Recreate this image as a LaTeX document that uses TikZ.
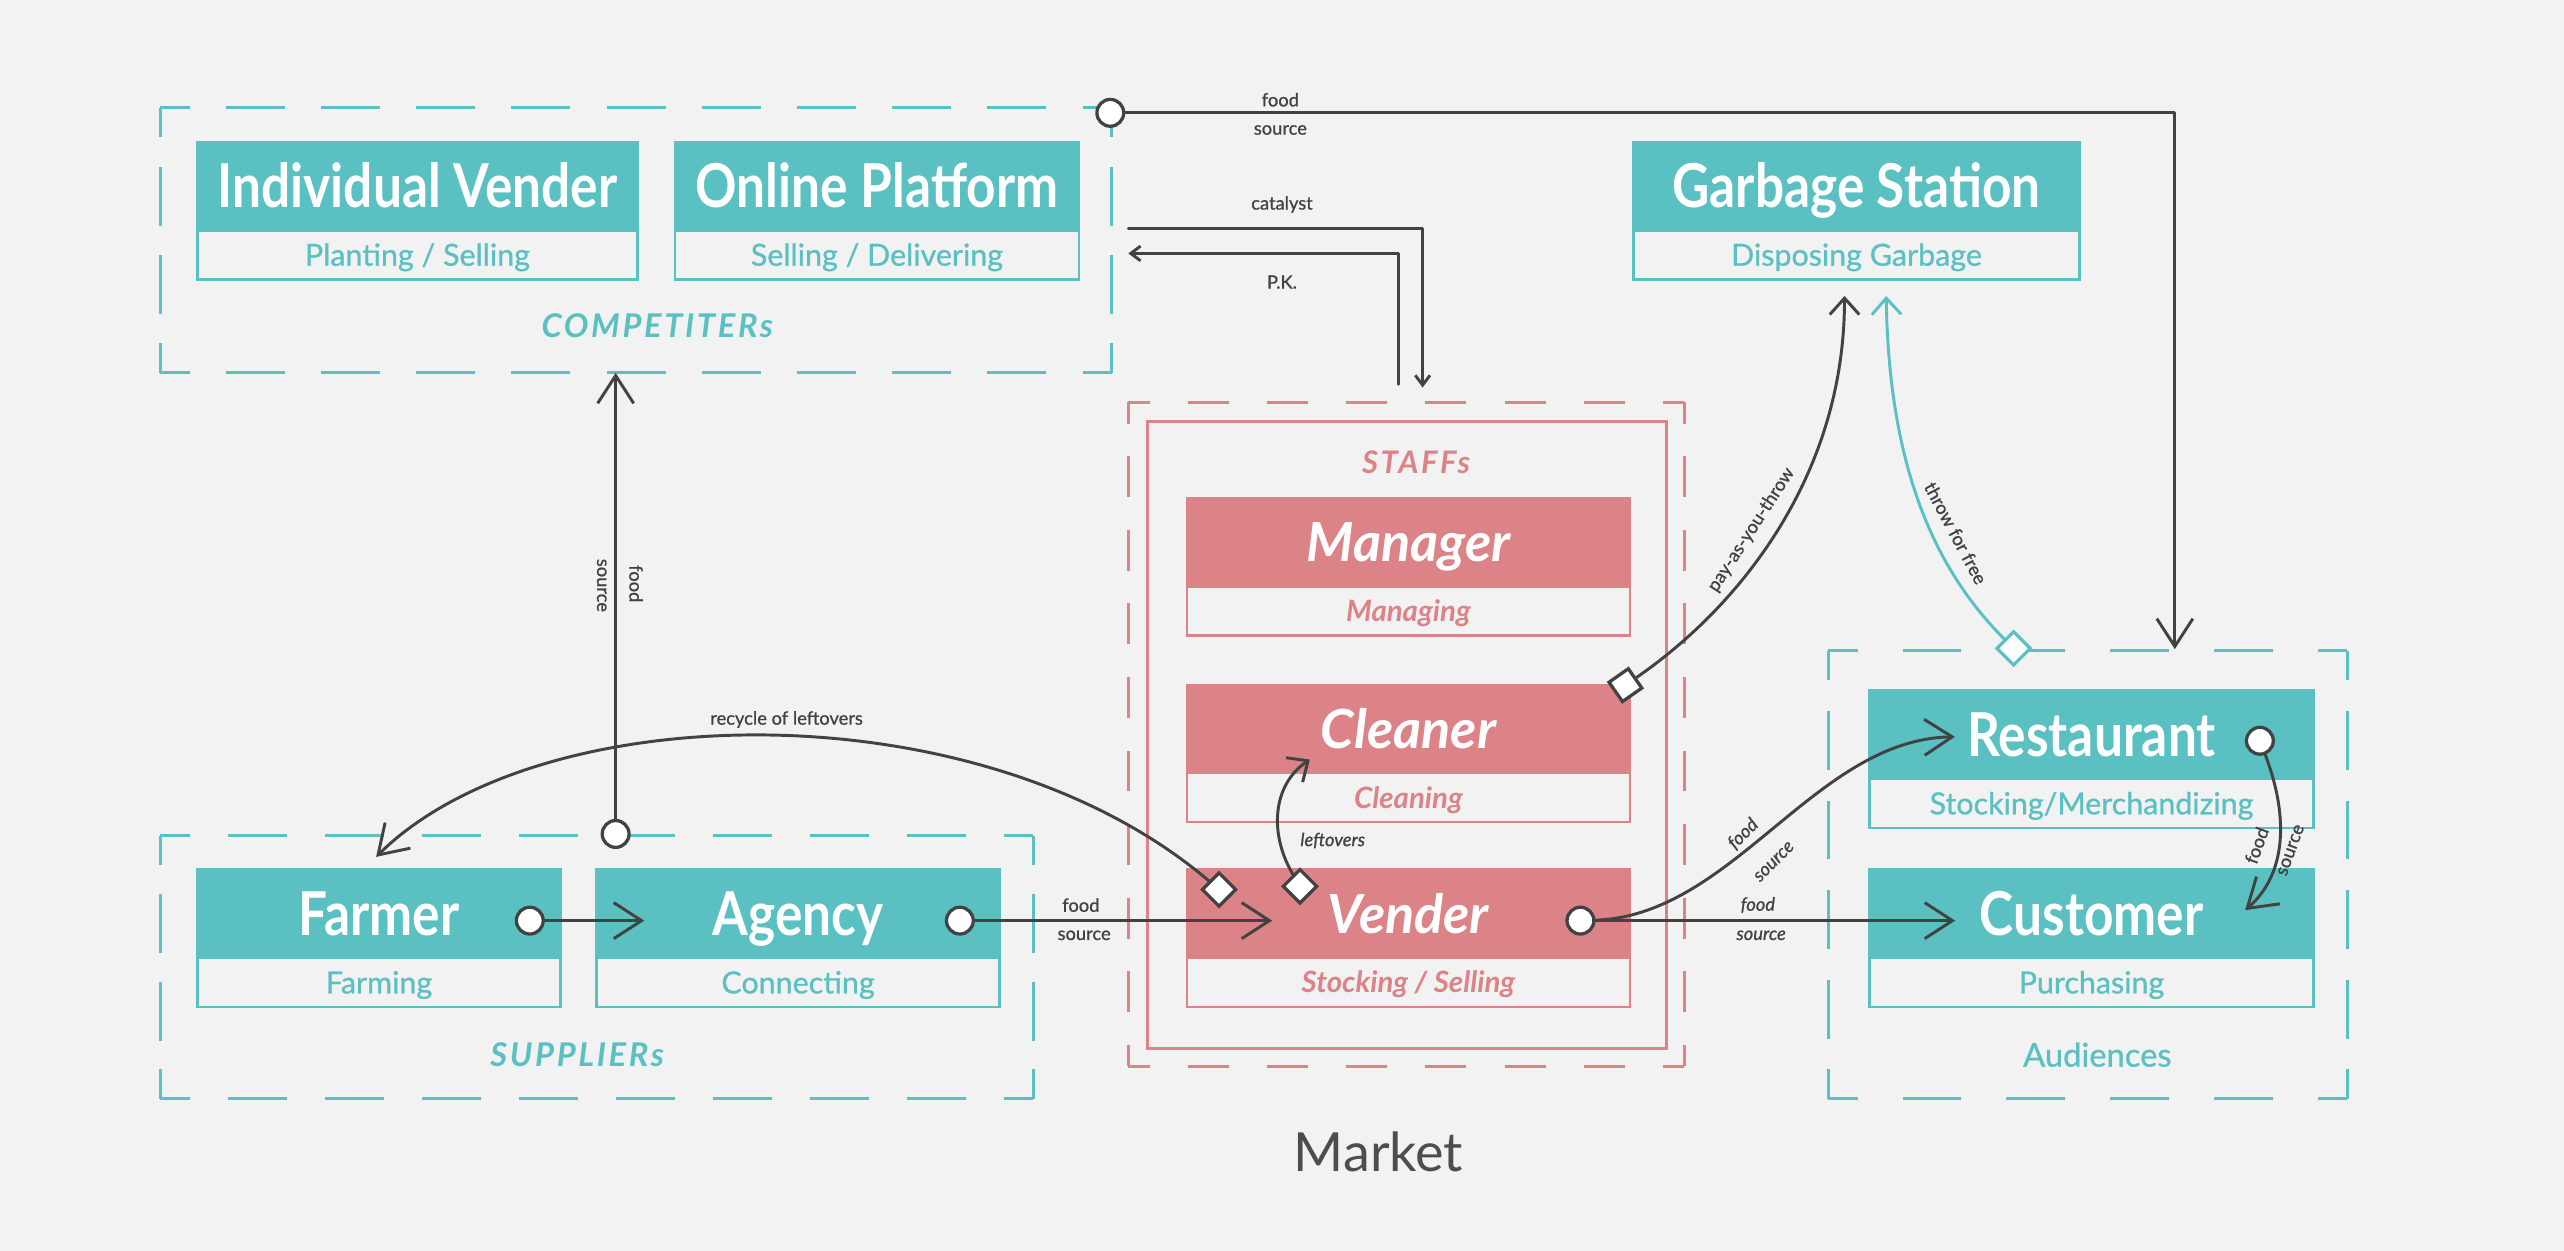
\documentclass[tikz,border=0pt]{standalone}
\usepackage{fontspec}
\setmainfont{Lato}
\newfontfamily\titlefont{Lato}[FakeStretch=0.85]
\newfontfamily\groupfont{Lato}[LetterSpace=8]
\newfontfamily\medfont{Lato}[FakeBold=0.8]
\usetikzlibrary{arrows.meta,shapes.geometric}
\definecolor{bgc}{HTML}{F2F2F2}
\definecolor{tealc}{HTML}{5BC0C2}
\definecolor{redc}{HTML}{DB8386}
\definecolor{darkc}{HTML}{424242}
\definecolor{mktc}{HTML}{4D4D4D}

% one dashed side: colour, start, end, length(pt), dash(pt), corner arm(pt)
\newcommand\dashside[6]{%
  \pgfmathsetmacro\dsN{max(0,round((#4-2*#6-11)/(#5+11)))}%
  \pgfmathsetmacro\dsG{(#4-2*#6-\dsN*#5)/(\dsN+1)}%
  \pgfmathsetmacro\dsP{#5-#6}%
  \draw[line width=0.9pt, draw=#1, dash pattern=on #5pt off \dsG pt, dash phase=\dsP pt] #2 -- #3;}
% colour, x1,y1,x2,y2, width(pt), height(pt), dash, corner
\newcommand\dashrect[9]{%
  \dashside{#1}{(#2,#3)}{(#4,#3)}{#6}{#8}{#9}%
  \dashside{#1}{(#4,#3)}{(#4,#5)}{#7}{#8}{#9}%
  \dashside{#1}{(#4,#5)}{(#2,#5)}{#6}{#8}{#9}%
  \dashside{#1}{(#2,#5)}{(#2,#3)}{#7}{#8}{#9}}

\tikzset{
  tealhead/.style={draw=tealc, fill=tealc, line width=0.8pt, inner sep=0pt, anchor=north west,
    minimum height=27pt, text=white, font=\titlefont\bfseries\fontsize{18.5}{20}\selectfont,
    text height=13.2pt, text depth=0pt},
  tealsub/.style={draw=tealc, line width=0.8pt, inner sep=0pt, anchor=north west,
    minimum height=15pt, text=tealc, font=\medfont\fontsize{9.3}{11}\selectfont,
    text height=6.7pt, text depth=0pt},
  redhead/.style={draw=redc, fill=redc, line width=0.8pt, inner sep=0pt, anchor=north west,
    minimum width=135.5pt, minimum height=27pt, text=white,
    font=\bfseries\itshape\fontsize{16.5}{18}\selectfont, text height=11.8pt, text depth=0pt},
  redsub/.style={draw=redc, line width=0.8pt, inner sep=0pt, anchor=north west,
    minimum width=135.5pt, minimum height=15pt, text=redc,
    font=\bfseries\itshape\fontsize{9}{11}\selectfont, text height=6.4pt, text depth=0pt},
  grp/.style={inner sep=0pt, font=\groupfont\bfseries\itshape\fontsize{10}{12}\selectfont},
  lbl/.style={inner sep=0.3pt, text=darkc, font=\medfont\fontsize{5.6}{7}\selectfont},
  lbli/.style={inner sep=0.3pt, text=darkc, font=\medfont\itshape\fontsize{5.6}{7}\selectfont},
  dot/.style={circle, draw=darkc, fill=white, line width=1pt, minimum size=8.2pt, inner sep=0pt},
  dia/.style={diamond, aspect=1, draw=darkc, fill=white, line width=1pt,
    minimum width=10.6pt, minimum height=10.6pt, inner sep=0pt},
  conn/.style={draw=darkc, line width=0.9pt, line cap=round, line join=round},
  bigtip/.style={-{Straight Barb[length=8.5pt, width=11pt]}},
  midtip/.style={-{Straight Barb[length=5pt, width=9pt]}},
  smalltip/.style={-{Straight Barb[length=3pt, width=4.5pt]}},
}

\begin{document}
\begin{tikzpicture}[x=0.5pt, y=-0.5pt]
\useasboundingbox (0,0) rectangle (1568,765);
\fill[bgc] (0,0) rectangle (1568,765);

% group frames
\dashrect{tealc}{98}{66}{680}{228}{291}{81}{18}{9}
\dashrect{tealc}{98}{511}{632}{672}{267}{80.5}{18}{9}
\dashrect{tealc}{1118}{398}{1435.5}{672}{158.75}{137}{18}{9}
\dashrect{redc}{690}{246}{1030}{652}{170}{203}{12.5}{6.5}
\draw[redc, line width=0.9pt] (702,258) rectangle (1019,641);

% entities
\node[tealhead, minimum width=134.5pt] (ivh) at (120,86) {Individual Vender};
\node[tealsub, minimum width=134.5pt] (ivs) at (120,140) {Planting / Selling};
\node[tealhead, minimum width=123.5pt] (oph) at (412,86) {Online Platform};
\node[tealsub, minimum width=123.5pt] (ops) at (412,140) {Selling / Delivering};
\node[tealhead, minimum width=136.5pt] (gsh) at (998,86) {Garbage Station};
\node[tealsub, minimum width=136.5pt] (gss) at (998,140) {Disposing Garbage};
\node[tealhead, minimum width=111pt] (farh) at (120,531) {Farmer};
\node[tealsub, minimum width=111pt] (fars) at (120,585) {Farming};
\node[tealhead, minimum width=123.25pt] (agyh) at (364,531) {Agency};
\node[tealsub, minimum width=123.25pt] (agys) at (364,585) {Connecting};
\node[redhead] (manh) at (725,304) {Manager};
\node[redsub] (mans) at (725,358) {Managing};
\node[redhead] (cleh) at (725,418) {Cleaner};
\node[redsub] (cles) at (725,472) {Cleaning};
\node[redhead] (venh) at (725,531) {Vender};
\node[redsub] (vens) at (725,585) {Stocking / Selling};
\node[tealhead, minimum width=135.75pt] (resh) at (1142.5,421.5) {Restaurant};
\node[tealsub, minimum width=135.75pt] (ress) at (1142.5,475.5) {Stocking/Merchandizing};
\node[tealhead, minimum width=135.75pt] (cush) at (1142.5,531) {Customer};
\node[tealsub, minimum width=135.75pt] (cuss) at (1142.5,585) {Purchasing};

% group labels
\node[grp, text=tealc] (compl) at (402,199) {COMPETITERs};
\node[grp, text=tealc] (supl) at (353,645) {SUPPLIERs};
\node[grp, text=redc, font=\groupfont\bfseries\itshape\fontsize{9.5}{11}\selectfont] (stfl) at (866,283) {STAFFs};
\node[inner sep=0pt, text=tealc, font=\medfont\fontsize{10}{12}\selectfont] (audl) at (1282.6,645) {Audiences};
\node[inner sep=0pt, text=mktc, font=\fontsize{16.5}{20}\selectfont] (mkt) at (843,704.5) {Market};

% ends
\node[dot] (cTop) at (679,69) {};
\node[dot] (cSup) at (376.5,510) {};
\node[dot] (cFar) at (324,563) {};
\node[dot] (cAgy) at (587,563) {};
\node[dot] (cVen) at (966.5,563) {};
\node[dot] (cRes) at (1382,453) {};
\node[dia] (dRec) at (745.5,544) {};
\node[dia] (dLeft) at (795,542) {};
\node[dia, rotate=-10] (dPay) at (994,419) {};
\node[dia, draw=tealc] (dFree) at (1231.4,396.5) {};

\coordinate (audTop) at (1330,397);
\coordinate (compBot) at (376.5,228);
\coordinate (agyIn) at (394,563);
\coordinate (venIn) at (778,563);
\coordinate (cusIn) at (1195.7,563);
\coordinate (resIn) at (1195.5,450.6);
\coordinate (cusIn2) at (1373,556.6);
\coordinate (farIn) at (230,524);
\coordinate (cleIn) at (801,464.5);
\coordinate (gsIn1) at (1128,181);
\coordinate (gsIn2) at (1153.5,181);
\coordinate (catS) at (690,140);
\coordinate (catE) at (870,237);
\coordinate (pkS) at (855,235);
\coordinate (pkE) at (690,155);

% connectors
\draw[conn, bigtip] (cTop) -| (audTop);
\draw[conn, bigtip] (cSup) -- (compBot);
\draw[conn, bigtip] (cFar) -- (agyIn);
\draw[conn, bigtip] (cAgy) -- (venIn);
\draw[conn, bigtip] (cVen) -- (cusIn);
\draw[conn, bigtip] (cVen) .. controls (1060,560) and (1110,452) .. (resIn);
\draw[conn, bigtip] (cRes) .. controls (1400,500) and (1398,535) .. (cusIn2);
\draw[conn, bigtip] (dRec) .. controls (600,420) and (330,425) .. (farIn);
\draw[conn, midtip] (dLeft) .. controls (776,510) and (778,480) .. (cleIn);
\draw[conn, midtip] (dPay) .. controls (1065,370) and (1128,290) .. (gsIn1);
\draw[conn, midtip, draw=tealc] (dFree) .. controls (1180,345) and (1155,280) .. (gsIn2);
\draw[conn, smalltip] (catS) -| (catE);
\draw[conn, smalltip] (pkS) |- (pkE);

% connector labels
\node[lbl] (l1) at (783,61) {food};
\node[lbl] (l2) at (783,79.5) {source};
\node[lbl] (l3) at (784,125) {catalyst};
\node[lbl] (l4) at (784,172.5) {P.K.};
\node[lbl, rotate=-90] (l5) at (389,357) {food};
\node[lbl, rotate=-90] (l6) at (368,358) {source};
\node[lbl] (l7) at (481,440) {recycle of leftovers};
\node[lbl] (l8) at (661,553.5) {food};
\node[lbl] (l9) at (663,572) {source};
\node[lbli] (l10) at (815,514) {leftovers};
\node[lbl, rotate=57] (l11) at (1071,324) {pay-as-you-throw};
\node[lbl, rotate=-62] (l12) at (1196,326) {throw for free};
\node[lbli, rotate=45] (l13) at (1066,510) {food};
\node[lbli, rotate=45] (l14) at (1085,527) {source};
\node[lbli] (l15) at (1075,553.5) {food};
\node[lbli] (l16) at (1077,572) {source};
\node[lbl, rotate=70] (l17) at (1380,517) {food};
\node[lbl, rotate=70] (l18) at (1401,520) {source};
\end{tikzpicture}
\end{document}
